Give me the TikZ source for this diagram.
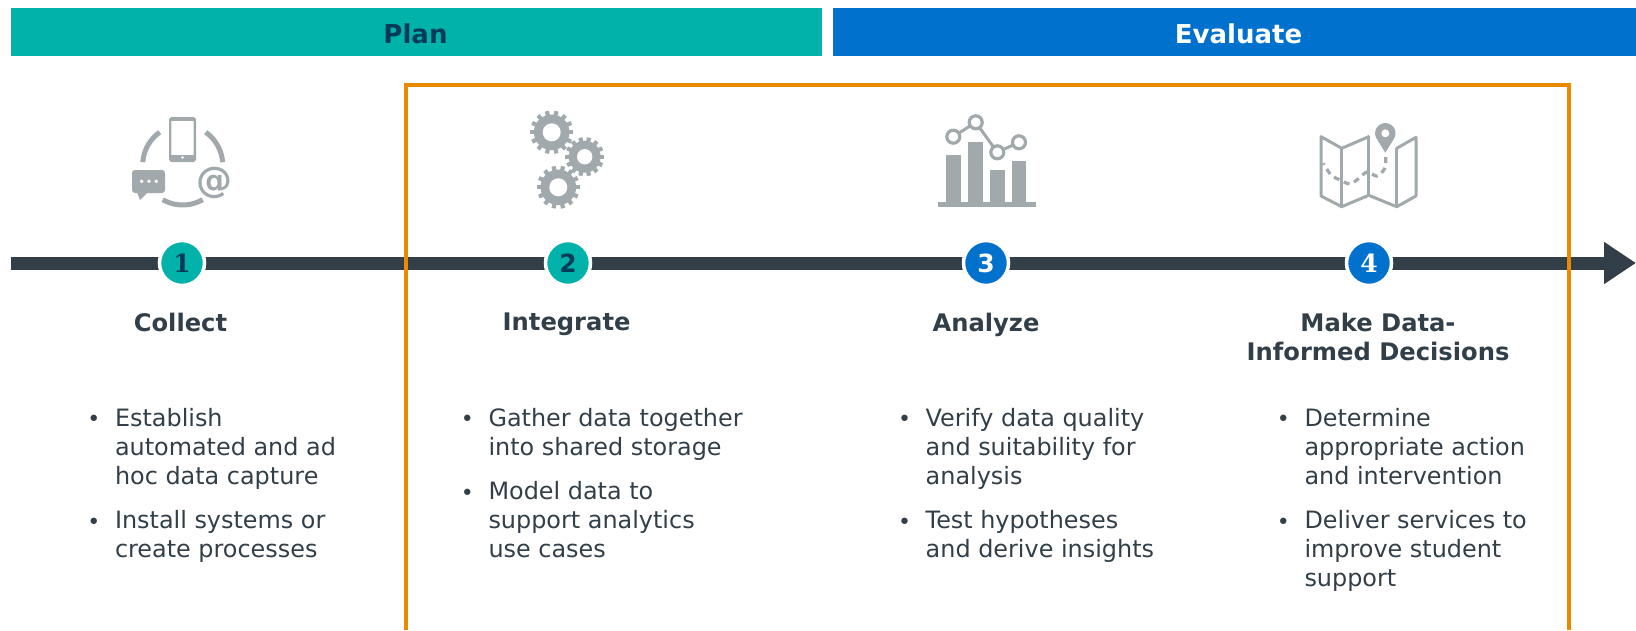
\documentclass[tikz,border=0pt]{standalone}
\usepackage{fontspec}
\setmainfont{DejaVu Sans}
\newfontfamily\numfont{DejaVu Serif}
\usetikzlibrary{arrows.meta}
\definecolor{teal1}{HTML}{00B2A9}
\definecolor{blue1}{HTML}{0072CE}
\definecolor{navy1}{HTML}{003B5C}
\definecolor{slate1}{HTML}{333F48}
\definecolor{orange1}{HTML}{EA8A00}
\definecolor{grey1}{HTML}{A2A9AD}
\newcommand{\gearicon}[6]{% cx cy body outer hole teeth
  \fill[grey1] (#1,#2) circle (#3);
  \foreach \t in {1,...,#6}{
    \draw[grey1,line width=4.2pt] ({#1+(#3-1)*cos(\t*360/#6)},{#2+(#3-1)*sin(\t*360/#6)}) -- ({#1+#4*cos(\t*360/#6)},{#2+#4*sin(\t*360/#6)});
  }
  \fill[white] (#1,#2) circle (#5);
}
\tikzset{
  barlabel/.style={font=\fontsize{26}{26}\selectfont\bfseries,anchor=center,inner sep=0},
  stepdot/.style={circle,minimum size=45pt,inner sep=0,draw=white,line width=3.5pt},
  slabnum/.style={font=\numfont\fontsize{25}{25}\selectfont\bfseries},
  sansnum/.style={font=\fontsize{25}{25}\selectfont\bfseries},
  heading/.style={font=\fontsize{24.2}{29}\selectfont\bfseries,text=slate1,align=center,inner sep=0,anchor=north},
  itemtext/.style={font=\fontsize{23.9}{29}\selectfont,text=slate1,align=left,inner sep=0,anchor=north west},
  bulletmark/.style={font=\fontsize{22}{22}\selectfont,text=slate1,inner sep=0,anchor=center},
  arcline/.style={grey1,line width=5pt},
  mapline/.style={grey1,line width=3pt,line join=round,line cap=round},
}
\begin{document}
\begin{tikzpicture}[x=1pt,y=-1pt]
\useasboundingbox (0,0) rectangle (1636,630);
% top bars
\fill[teal1] (11,8) rectangle (822,56);
\fill[blue1] (833,8) rectangle (1636,56);
\node[barlabel,text=navy1] (plan) at (415.5,33.5) {Plan};
\node[barlabel,text=white] (evaluate) at (1238.5,33.5) {Evaluate};
% timeline
\coordinate (tlstart) at (11,263);
\coordinate (tlend) at (1636,263);
\draw[slate1,line width=13pt,-{Triangle[length=32pt,width=40pt]}] (tlstart) -- (tlend);
% orange frame
\coordinate (fa) at (406,630);
\coordinate (fb) at (406,84.5);
\coordinate (fc) at (1569,84.5);
\coordinate (fd) at (1569,630);
\draw[orange1,line width=4pt,line join=miter] (fa) -- (fb) -- (fc) -- (fd);
% step dots
\node[stepdot,slabnum,fill=teal1,text=navy1] (s1) at (182,263) {1};
\node[stepdot,sansnum,fill=teal1,text=navy1] (s2) at (568,263) {2};
\node[stepdot,sansnum,fill=blue1,text=white] (s3) at (986,263) {3};
\node[stepdot,slabnum,fill=blue1,text=white] (s4) at (1369,263) {4};
% icon 1
\draw[arcline] plot[smooth,domain=184:235,samples=12] ({182.7+40*cos(\x)},{165+40*sin(\x)});
\draw[arcline] plot[smooth,domain=-55:-4,samples=12] ({182.7+40*cos(\x)},{165+40*sin(\x)});
\draw[arcline] plot[smooth,domain=60:120,samples=12] ({182.7+40*cos(\x)},{165+40*sin(\x)});
\draw[grey1,line width=2.4pt,rounded corners=1.5pt,fill=white] (170.2,118.2) rectangle (194.8,160.8);
\fill[grey1] (170.2,154.5) rectangle (194.8,160.8);
\fill[grey1] (170.2,118.2) rectangle (194.8,120.5);
\fill[white] (182.5,157.3) circle (1.5);
\fill[grey1,rounded corners=3pt] (132,170) rectangle (165,193);
\fill[grey1] (137,192) -- (140,200) -- (148,192) -- cycle;
\fill[white] (141.7,181.3) circle (1.9) (149,181.3) circle (1.9) (156.3,181.3) circle (1.9);
\node[font=\fontsize{36}{36}\selectfont\bfseries,text=grey1,inner sep=0] (at1) at (214,183) {@};
% icon 2
\gearicon{551.7}{132.3}{17.8}{21.7}{9}{14}
\gearicon{584.7}{156.7}{16}{19.5}{7.7}{14}
\gearicon{558.3}{187.3}{17.8}{21.5}{9}{14}
% icon 3
\fill[grey1] (946,155) rectangle (961.3,204);
\fill[grey1] (967.7,141.7) rectangle (983,204);
\fill[grey1] (990,170) rectangle (1004.7,204);
\fill[grey1] (1011.7,160.7) rectangle (1026,204);
\fill[grey1] (937.7,202.3) rectangle (1036,207);
\draw[grey1,line width=3pt] (953.3,136.7) -- (975.7,122.3) -- (997.3,152.3) -- (1019,142.3);
\foreach \cx/\cy in {953.3/136.7,975.7/122.3,997.3/152.3,1019/142.3}{
  \draw[grey1,line width=3.2pt,fill=white] (\cx,\cy) circle (6.5);
}
% icon 4
\draw[mapline] (1368.7,136.7) -- (1341.7,148.3) -- (1321,136.7) -- (1321,196) -- (1341.7,206.7) -- (1368.7,195.3) -- (1396.7,206.7) -- (1416,196) -- (1416,137.3) -- (1396.7,148.3);
\draw[mapline] (1341.7,148.3) -- (1341.7,206.7) (1368.7,136.7) -- (1368.7,195.3) (1396.7,148.3) -- (1396.7,206.7);
\draw[grey1,line width=3.2pt,dash pattern=on 6pt off 5pt] plot[smooth] coordinates {(1385.7,157) (1385,168) (1377,176) (1367,172) (1358,179) (1350,184) (1340,180) (1331,175) (1323.3,163.3)};
\fill[grey1] (1385.3,152.7) -- plot[smooth,domain=150:390,samples=25] ({1385.3+10.2*cos(\x)},{133.3+10.2*sin(\x)}) -- cycle;
\fill[white] (1385.3,133.3) circle (4);
% headings
\node[heading] (h1) at (180.5,312.5) {Collect};
\node[heading] (h2) at (566.6,312.5) {Integrate};
\node[heading] (h3) at (986,312.5) {Analyze};
\node[heading] (h4) at (1378,312.5) {Make Data-\\Informed Decisions};
% column 1
\node[bulletmark] (b11) at (93.9,421) {•};
\node[itemtext] (t11) at (114.8,408) {Establish\\automated and ad\\hoc data capture};
\node[bulletmark] (b12) at (93.9,524) {•};
\node[itemtext] (t12) at (114.8,510.5) {Install systems or\\create processes};
% column 2
\node[bulletmark] (b21) at (467.4,421) {•};
\node[itemtext] (t21) at (488.3,408) {Gather data together\\into shared storage};
\node[bulletmark] (b22) at (467.4,495) {•};
\node[itemtext] (t22) at (488.3,481.5) {Model data to\\support analytics\\use cases};
% column 3
\node[bulletmark] (b31) at (904.6,421) {•};
\node[itemtext] (t31) at (925.5,408) {Verify data quality\\and suitability for\\analysis};
\node[bulletmark] (b32) at (904.6,524) {•};
\node[itemtext] (t32) at (925.5,510.5) {Test hypotheses\\and derive insights};
% column 4
\node[bulletmark] (b41) at (1283.4,421) {•};
\node[itemtext] (t41) at (1304.3,408) {Determine\\appropriate action\\and intervention};
\node[bulletmark] (b42) at (1283.4,524) {•};
\node[itemtext] (t42) at (1304.3,510.5) {Deliver services to\\improve student\\support};
\end{tikzpicture}
\end{document}
